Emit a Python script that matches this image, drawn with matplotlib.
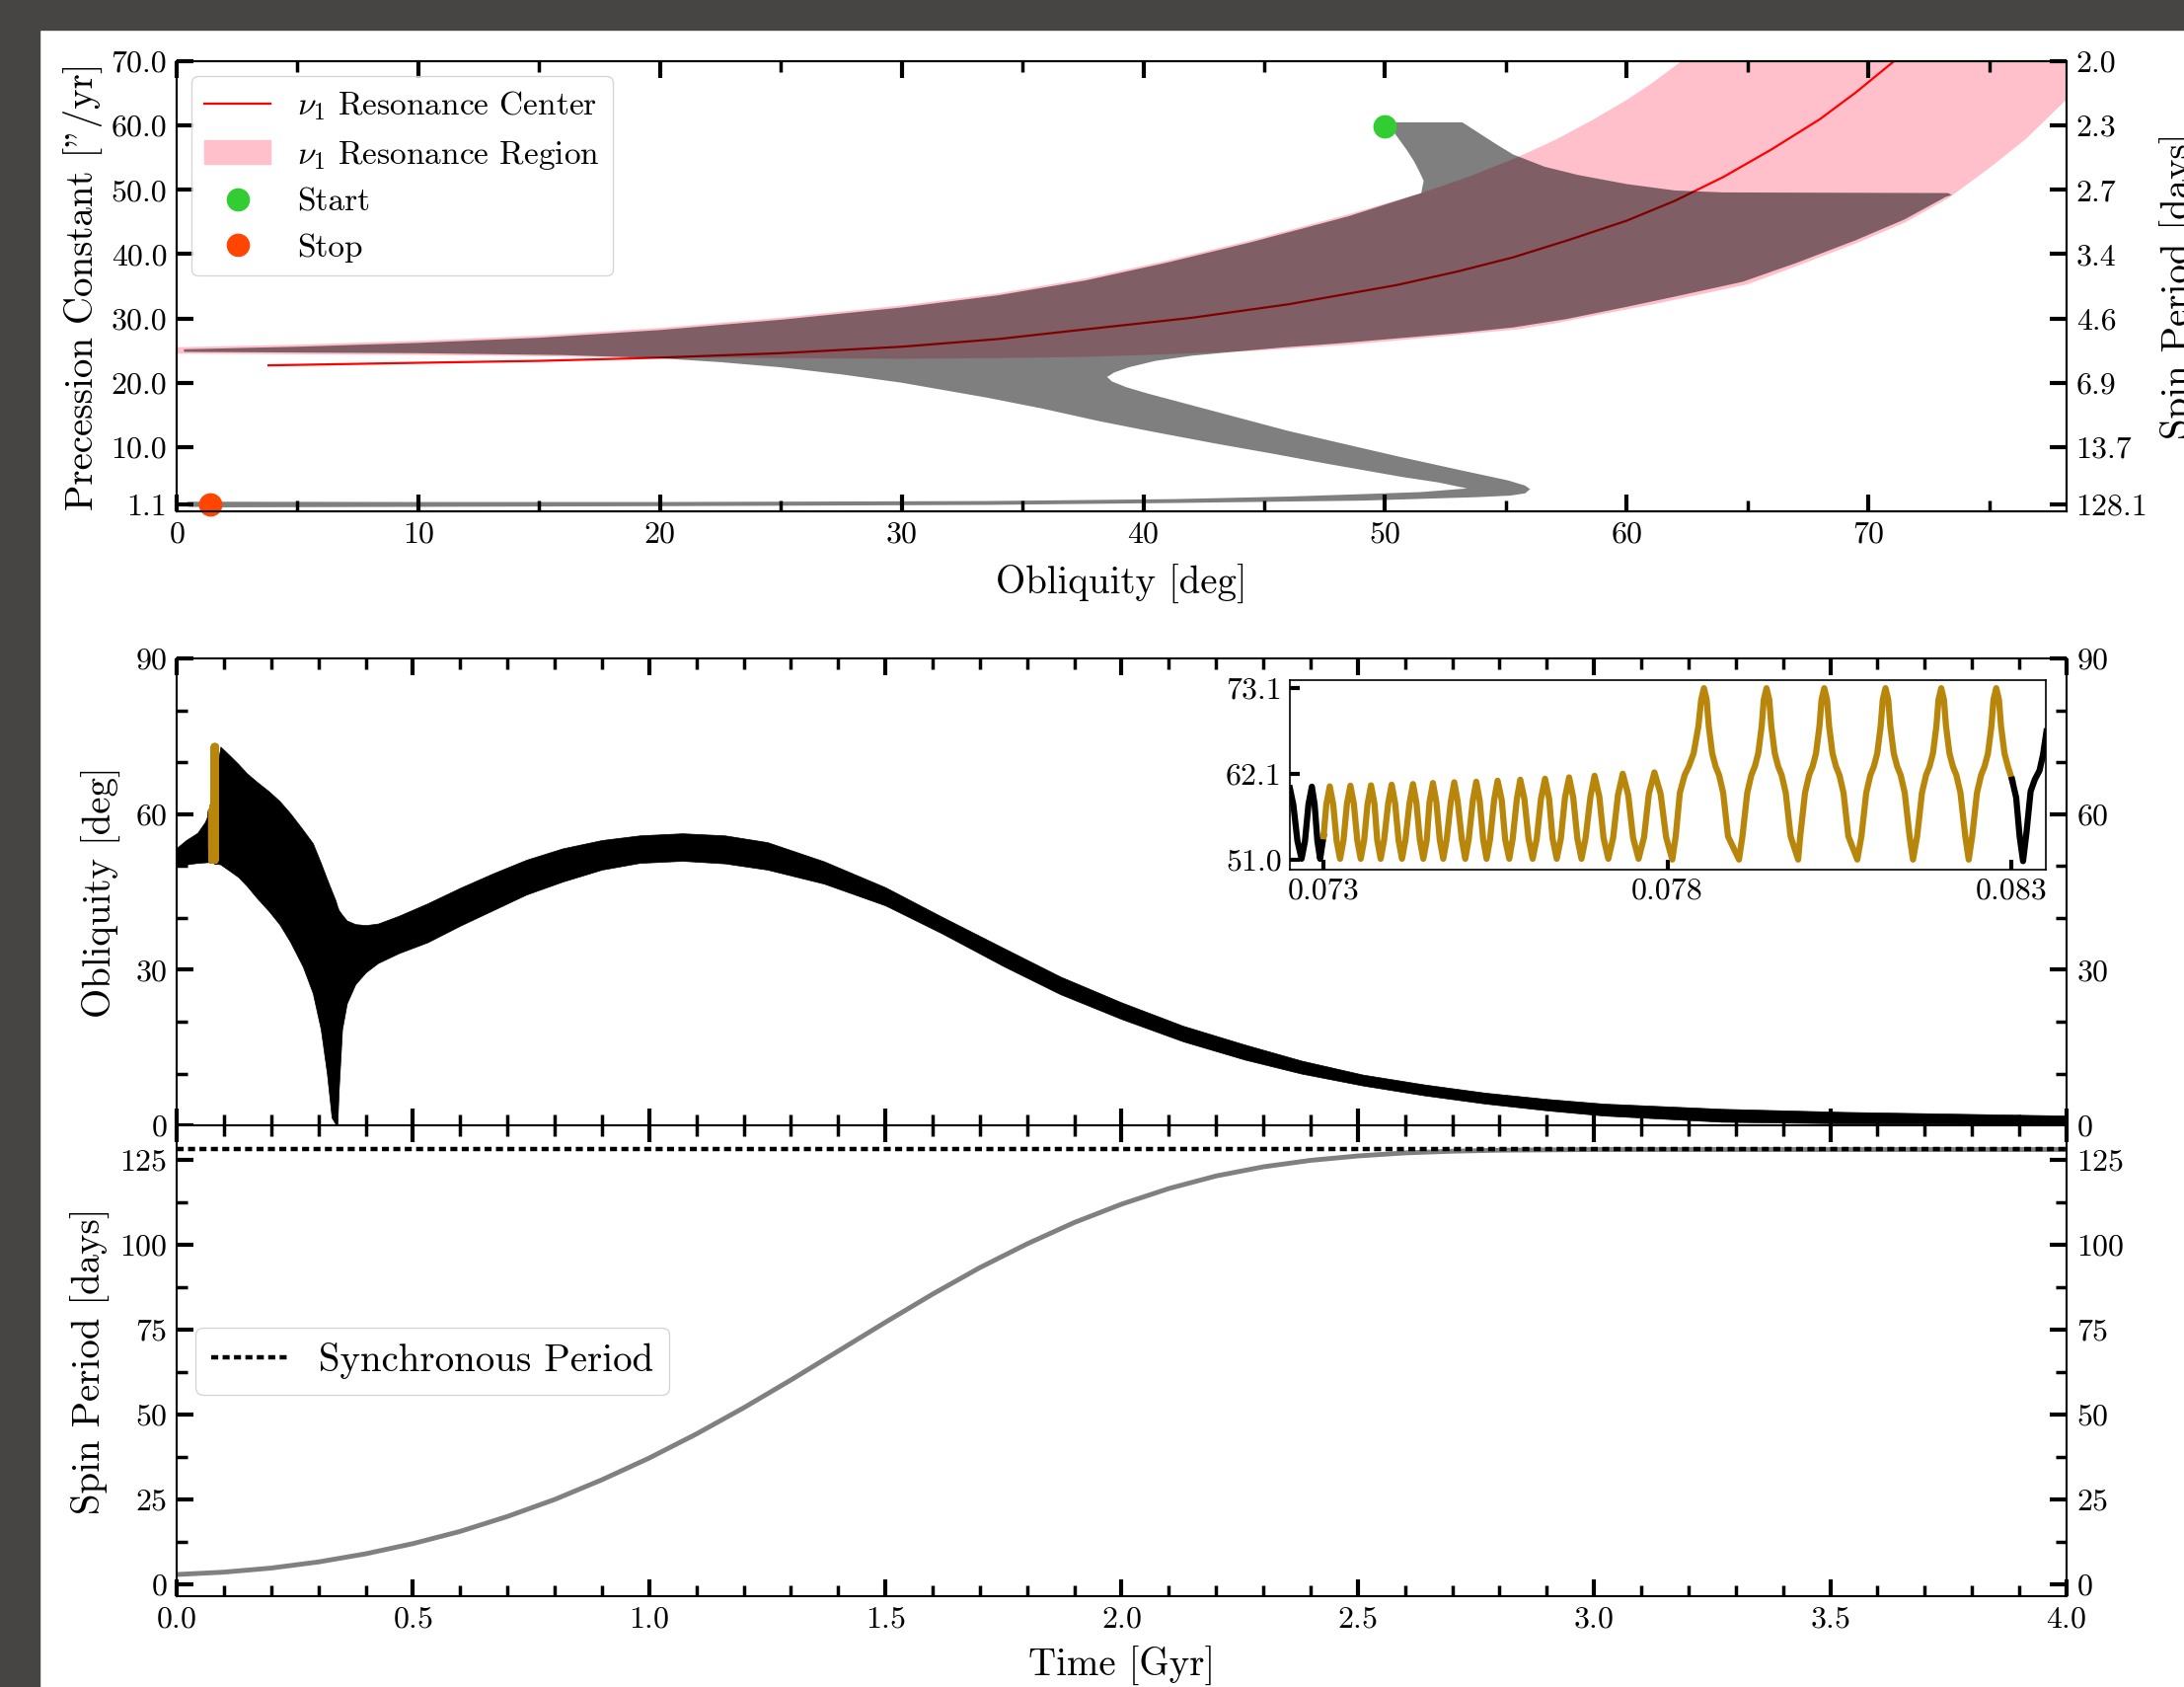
import matplotlib
matplotlib.use("Agg")
import matplotlib.pyplot as plt
from matplotlib.patches import Rectangle, Patch
from matplotlib.lines import Line2D
from matplotlib.ticker import MultipleLocator

plt.rcParams['font.family'] = 'serif'
plt.rcParams['font.serif'] = ['cmr10']
plt.rcParams['mathtext.fontset'] = 'cm'
plt.rcParams['axes.formatter.use_mathtext'] = True
plt.rcParams['axes.unicode_minus'] = False

# ---------------- top panel: precession constant vs obliquity
res_obl = [0, 5, 10, 15, 20, 25, 30, 34, 37.6, 41, 44.4, 48.5, 51.5, 53.5, 55.5, 57, 58.5,
           60, 61, 62, 63, 65, 67, 69.5, 71.5, 73.3, 75, 76.5, 78.2]
res_upper = [25.6, 26.0, 26.6, 27.4, 28.6, 30.2, 32.1, 34.0, 36.3, 39.1, 42.2, 46.3, 49.6,
             52.2, 55.2, 57.8, 60.8, 64.1, 66.6, 69.4, 72.3, 78.5, 85.0, 94.0, 101.0,
             108.0, 115.0, 121.0, 130.0]
res_lower = [24.6, 24.5, 24.4, 24.2, 24.0, 23.9, 23.8, 23.9, 24.1, 24.5, 25.0, 26.0, 27.0,
             27.7, 28.4, 29.3, 30.4, 31.5, 32.2, 33.0, 33.8, 35.4, 38.2, 41.8, 45.0,
             48.8, 53.5, 58.0, 64.2]

center_obl = [3.8, 10, 15, 20, 25, 30, 34, 37.6, 42, 46, 50.5, 53, 55.3, 57.6, 60, 62, 64,
              66, 68, 69.5, 71.06, 72.5]
center_P = [22.7, 23.1, 23.4, 23.9, 24.6, 25.6, 26.8, 28.3, 30.1, 32.2, 35.2, 37.3, 39.5,
            42.2, 45.2, 48.3, 52.0, 56.3, 61.0, 65.2, 70.0, 74.5]

# outline of the trajectory band (obliquity, precession constant), clockwise
traj_obl = [0.3, 5, 10, 15, 20, 25, 30, 34, 37.6, 41, 44.4, 48.5, 51.5,
            51.6, 51.4, 51.2, 50.9, 50.65, 50.4, 50.1, 50.0,
            53.2, 53.9, 54.6, 55.3, 56.6, 58.0, 60.0, 62.0, 64.0, 73.3, 73.45, 73.2,
            71.5, 69.5, 67.0, 64.8, 62.0, 60.0, 57.5, 55.3, 53.0, 50.5, 48.0, 45.8,
            44.0, 42.0, 40.5, 39.4, 38.8, 38.5,
            38.7, 39.3, 40.2, 41.3, 43.5, 46.0, 48.4, 50.7, 53.0, 55.1, 55.8, 56.0, 55.8, 55.2,
            53.8, 49.1, 41.3, 33.5, 20.0, 10.0, 2.0, 0.5, 0.2,
            0.5, 10.0, 20.0, 33.5, 41.3, 46.0, 49.1, 51.5, 53.4,
            52.2, 50.7, 47.6, 45.3, 42.9, 40.5, 38.2, 35.8, 33.5, 30.0, 27.5, 25.0, 22.5,
            20.0, 16.0, 10.0, 5.0, 0.3]
traj_P = [25.2, 25.6, 26.2, 27.0, 28.2, 29.8, 31.7, 33.6, 35.9, 38.7, 41.8, 45.9, 49.5,
          51.4, 53.0, 54.45, 56.2, 57.5, 58.8, 59.8, 60.5,
          60.5, 58.8, 57.1, 55.5, 53.6, 52.3, 50.9, 49.9, 49.6, 49.5, 49.2, 48.9,
          45.4, 42.2, 38.6, 35.7, 33.4, 31.8, 29.9, 28.6, 27.7, 26.9, 26.1, 25.5,
          24.9, 24.2, 23.4, 22.4, 21.6, 20.9,
          20.2, 19.3, 18.3, 17.2, 15.0, 12.5, 10.4, 8.4, 6.5, 4.8, 4.0, 3.45, 2.8, 2.45,
          2.2, 1.67, 1.3, 1.0, 0.8, 0.7, 0.62, 0.7, 1.1,
          1.5, 1.45, 1.45, 1.6, 1.9, 2.3, 2.68, 3.0, 3.56,
          4.5, 5.35, 7.4, 9.0, 10.6, 12.3, 14.0, 16.0, 17.7, 20.0, 21.3, 22.4, 23.2,
          23.8, 24.3, 24.6, 24.7, 24.8]

start_obl, start_P = 50.0, 59.9
stop_obl, stop_P = 1.4, 1.05

prec_ticks = [1.1, 10.0, 20.0, 30.0, 40.0, 50.0, 60.0, 70.0]
prec_labels = ["1.1", "10.0", "20.0", "30.0", "40.0", "50.0", "60.0", "70.0"]
spin_labels = ["128.1", "13.7", "6.9", "4.6", "3.4", "2.7", "2.3", "2.0"]

# ---------------- middle panel: obliquity envelope vs time
env_t = [0.0, 0.02, 0.044, 0.06, 0.072, 0.0926, 0.11, 0.13, 0.148, 0.17, 0.195, 0.218,
         0.24, 0.267, 0.288, 0.305, 0.318, 0.328, 0.336, 0.340, 0.343, 0.35, 0.36, 0.378,
         0.40, 0.426, 0.47, 0.531, 0.60, 0.67, 0.74, 0.817, 0.90, 0.98, 1.07, 1.16, 1.25,
         1.37, 1.5, 1.62, 1.75, 1.87, 2.0, 2.13, 2.26, 2.38, 2.51, 2.64, 2.77, 2.9, 3.02,
         3.27, 3.53, 3.8, 4.0]
env_upper = [53.5, 55.0, 56.4, 58.5, 61.2, 73.0, 71.5, 69.7, 67.9, 66.2, 64.4, 62.5,
             60.2, 57.0, 54.4, 50.6, 47.5, 45.2, 43.4, 42.2, 41.5, 40.6, 39.5, 38.8,
             38.6, 38.9, 40.4, 42.8, 45.8, 48.6, 51.2, 53.4, 55.0, 55.9, 56.3, 55.9, 54.6,
             50.9, 45.9, 40.2, 34.2, 28.7, 23.7, 19.2, 15.6, 12.5, 9.8, 7.9, 6.3, 5.1, 4.2,
             3.2, 2.6, 2.2, 1.9]
env_lower = [49.9, 50.3, 50.6, 50.7, 50.8, 50.3, 49.2, 47.9, 46.2, 43.8, 41.3, 38.7,
             35.4, 30.6, 25.5, 18.5, 10.0, 1.5, 0.3, 0.3, 7.0, 18.5, 23.5, 27.2,
             29.5, 31.3, 33.2, 35.3, 38.5, 41.5, 44.5, 47.0, 49.3, 50.6, 51.0, 50.5, 49.3,
             46.6, 42.4, 37.0, 30.7, 25.3, 20.5, 16.2, 12.7, 10.0, 7.7, 5.8, 4.2, 2.9, 1.9,
             0.7, 0.4, 0.3, 0.3]

# zoom window: obliquity during the resonance crossing
pre_t = [0.07251, 0.07256, 0.07262, 0.07268, 0.07273, 0.07278, 0.07283, 0.07287, 0.07291, 0.07295, 0.07300]
pre_obl = [60.2, 58.1, 53.4, 51.1, 53.4, 58.1, 60.4, 58.1, 53.4, 51.1, 54.0]

cross_t = [0.07300, 0.07304, 0.07309,
           0.07314, 0.07319, 0.07324, 0.07329, 0.07334, 0.07339,
           0.07344, 0.07349, 0.07354, 0.07359, 0.07364, 0.07369,
           0.07374, 0.07378, 0.07383, 0.07388, 0.07394, 0.07399,
           0.07404, 0.07409, 0.07414, 0.07419, 0.07425, 0.07430,
           0.07435, 0.07440, 0.07445, 0.07450, 0.07454, 0.07459,
           0.07464, 0.07469, 0.07474, 0.07479, 0.07485, 0.07490,
           0.07495, 0.07501, 0.07506, 0.07511, 0.07517, 0.07522,
           0.07527, 0.07532, 0.07537, 0.07542, 0.07548, 0.07553,
           0.07559, 0.07564, 0.07570, 0.07575, 0.07581, 0.07586,
           0.07592, 0.07598, 0.07604, 0.07610, 0.07616, 0.07622,
           0.07628, 0.07633, 0.07639, 0.07645, 0.07651, 0.07657,
           0.07663, 0.07669, 0.07675, 0.07681, 0.07688, 0.07694,
           0.07701, 0.07707, 0.07714, 0.07721, 0.07728, 0.07735,
           0.07743, 0.07750, 0.07758, 0.07766, 0.07773, 0.07781,
           0.07790, 0.07798, 0.07807,
           0.07812, 0.07818, 0.07825, 0.07831, 0.07838, 0.07845, 0.07849, 0.07853,
           0.07857, 0.07860, 0.07865, 0.07870, 0.07875, 0.07881, 0.07888, 0.07904,
           0.07909, 0.07916, 0.07922, 0.07927, 0.07932, 0.07937, 0.07940, 0.07944,
           0.07948, 0.07951, 0.07956, 0.07961, 0.07966, 0.07972, 0.07979, 0.07990,
           0.07993, 0.08000, 0.08006, 0.08011, 0.08016, 0.08021, 0.08024, 0.08028,
           0.08032, 0.08035, 0.08040, 0.08045, 0.08050, 0.08056, 0.08063, 0.08076,
           0.08082, 0.08089, 0.08095, 0.08100, 0.08105, 0.08110, 0.08113, 0.08117,
           0.08121, 0.08124, 0.08129, 0.08134, 0.08139, 0.08145, 0.08152, 0.08157,
           0.08163, 0.08170, 0.08176, 0.08181, 0.08186, 0.08191, 0.08194, 0.08198,
           0.08202, 0.08205, 0.08210, 0.08215, 0.08220, 0.08226, 0.08233, 0.08238,
           0.08243, 0.08250, 0.08256, 0.08261, 0.08266, 0.08271, 0.08274, 0.08278,
           0.08282, 0.08285, 0.08290, 0.08295, 0.08301]
cross_obl = [54.0, 58.1, 60.44,
             58.1, 53.4, 51.1, 53.5, 58.2, 60.53,
             58.2, 53.5, 51.1, 53.5, 58.2, 60.57,
             58.2, 53.5, 51.1, 53.5, 58.3, 60.66,
             58.3, 53.5, 51.1, 53.5, 58.3, 60.74,
             58.3, 53.5, 51.1, 53.5, 58.4, 60.87,
             58.4, 53.5, 51.1, 53.6, 58.5, 60.96,
             58.5, 53.6, 51.1, 53.6, 58.6, 61.04,
             58.6, 53.6, 51.1, 53.6, 58.7, 61.17,
             58.7, 53.6, 51.1, 53.7, 58.8, 61.30,
             58.8, 53.7, 51.1, 53.7, 58.8, 61.43,
             58.8, 53.7, 51.1, 53.7, 59.0, 61.60,
             59.0, 53.7, 51.1, 53.8, 59.1, 61.81,
             59.1, 53.8, 51.1, 53.8, 59.3, 62.07,
             59.3, 53.8, 51.1, 53.9, 59.5, 62.24,
             59.5, 53.9, 51.0,
             54.0, 59.6, 61.9, 63.0, 64.7, 68.2, 71.6, 73.1,
             71.6, 68.2, 64.7, 63.0, 61.9, 59.6, 54.0, 51.0,
             54.0, 59.6, 61.9, 63.0, 64.7, 68.2, 71.6, 73.1,
             71.6, 68.2, 64.7, 63.0, 61.9, 59.6, 54.0, 51.0,
             54.0, 59.6, 61.9, 63.0, 64.7, 68.2, 71.6, 73.1,
             71.6, 68.2, 64.7, 63.0, 61.9, 59.6, 54.0, 51.0,
             54.0, 59.6, 61.9, 63.0, 64.7, 68.2, 71.6, 73.1,
             71.6, 68.2, 64.7, 63.0, 61.9, 59.6, 54.0, 51.0,
             54.0, 59.6, 61.9, 63.0, 64.7, 68.2, 71.6, 73.1,
             71.6, 68.2, 64.7, 63.0, 61.9, 59.6, 54.0, 51.0,
             54.0, 59.6, 61.9, 63.0, 64.7, 68.2, 71.6, 73.1,
             71.6, 68.2, 64.7, 63.0, 61.3]

post_t = [0.08301, 0.08307, 0.08312, 0.08317, 0.08322, 0.08328, 0.08334, 0.08341, 0.08346, 0.08351]
post_obl = [61.3, 59.0, 54.0, 50.8, 54.5, 59.8, 61.3, 62.5, 64.5, 67.5]

inset_xticks = [0.073, 0.078, 0.083]
inset_yticks = [51.0, 62.1, 73.1]

# ---------------- bottom panel: spin period vs time
spin_t = [0.0, 0.1, 0.2, 0.3, 0.4, 0.5, 0.6, 0.7, 0.8, 0.9, 1.0, 1.1, 1.2, 1.3, 1.4, 1.5,
          1.6, 1.7, 1.8, 1.9, 2.0, 2.1, 2.2, 2.3, 2.4, 2.5, 2.6, 2.7, 2.8, 2.9, 3.0, 3.5, 4.0]
spin_P = [2.9, 3.6, 4.8, 6.6, 9.0, 12.0, 15.6, 20.0, 25.0, 30.8, 37.2, 44.3, 52.0, 60.2,
          68.7, 77.2, 85.5, 93.3, 100.3, 106.6, 112.0, 116.6, 120.3, 123.0, 124.9, 126.2,
          127.1, 127.6, 127.9, 128.0, 128.1, 128.1, 128.1]
sync_period = 128.1

gold = '#B8860B'

fig = plt.figure(figsize=(22.13, 17.09), dpi=100)
fig.patch.set_facecolor('white')
# dark screenshot border on the top and left
fig.patches.append(Rectangle((0, 1 - 30 / 1709), 1, 30 / 1709, transform=fig.transFigure,
                             color='#474544', zorder=0))
fig.patches.append(Rectangle((0, 0), 40 / 2213, 1, transform=fig.transFigure,
                             color='#474544', zorder=0))


def style_axis(ax):
    ax.tick_params(which='major', direction='in', length=12, width=3, labelsize=23,
                   top=True, right=True, pad=7)
    ax.tick_params(which='minor', direction='in', length=8, width=2.5, top=True, right=True)
    for sp in ax.spines.values():
        sp.set_linewidth(1.5)


# ===== top
ax1 = fig.add_axes([0.0809, 0.6969, 0.8653, 0.2668])
ax1.fill_between(res_obl, res_lower, res_upper, color='pink', lw=0, zorder=1)
ax1.plot(center_obl, center_P, color='red', lw=1.6, zorder=2)
ax1.fill(traj_obl, traj_P, color='black', alpha=0.5, lw=0, zorder=3)
ax1.scatter([start_obl], [start_P], s=260, color='limegreen', zorder=5, clip_on=False)
ax1.scatter([stop_obl], [stop_P], s=260, color='orangered', zorder=5, clip_on=False)
ax1.set_xlim(0, 78.2)
ax1.set_ylim(0, 70)
ax1.xaxis.set_major_locator(MultipleLocator(10))
ax1.xaxis.set_minor_locator(MultipleLocator(5))
ax1.set_yticks(prec_ticks)
ax1.set_yticklabels(prec_labels)
style_axis(ax1)
ax1.tick_params(right=False, which='both')
ax1.set_xlabel('Obliquity [deg]', fontsize=28, labelpad=12)
ax1.set_ylabel('Precession Constant ["/yr]', fontsize=28, labelpad=6)

ax1r = ax1.twinx()
ax1r.set_ylim(0, 70)
ax1r.set_yticks(prec_ticks)
ax1r.set_yticklabels(spin_labels)
ax1r.tick_params(which='major', direction='in', length=12, width=3, labelsize=23, pad=7)
ax1r.set_ylabel('Spin Period [days]', fontsize=28, labelpad=9)
for sp in ax1r.spines.values():
    sp.set_linewidth(1.5)

leg_handles = [Line2D([], [], color='red', lw=1.6),
               Patch(color='pink'),
               Line2D([], [], ls='none', marker='o', ms=16, color='limegreen'),
               Line2D([], [], ls='none', marker='o', ms=16, color='orangered')]
leg_labels = [r'$\nu_1$ Resonance Center', r'$\nu_1$ Resonance Region', 'Start', 'Stop']
ax1r.legend(leg_handles, leg_labels, loc='upper left', fontsize=24, borderaxespad=0.45)

# ===== middle
ax2 = fig.add_axes([0.0809, 0.3329, 0.8653, 0.2768])
ax2.fill_between(env_t, env_lower, env_upper, color='black', lw=0.5, zorder=2)
ax2.plot(pre_t, pre_obl, color='black', lw=4.5, zorder=3)
ax2.plot(post_t, post_obl, color='black', lw=4.5, zorder=3)
ax2.plot(cross_t, cross_obl, color=gold, lw=4.5, zorder=4)
ax2.set_xlim(0, 4.0)
ax2.set_ylim(0, 90)
ax2.xaxis.set_major_locator(MultipleLocator(0.5))
ax2.xaxis.set_minor_locator(MultipleLocator(0.1))
ax2.yaxis.set_major_locator(MultipleLocator(30))
ax2.yaxis.set_minor_locator(MultipleLocator(10))
style_axis(ax2)
ax2.tick_params(labelbottom=False, labelright=True)
ax2.set_ylabel('Obliquity [deg]', fontsize=28, labelpad=10)

# inset
axin = fig.add_axes([0.5906, 0.4845, 0.3461, 0.1123])
axin.plot(pre_t, pre_obl, color='black', lw=4.5)
axin.plot(cross_t, cross_obl, color=gold, lw=4.5)
axin.plot(post_t, post_obl, color='black', lw=4.5)
axin.set_xlim(0.07251, 0.0835)
axin.set_ylim(49.7, 74.13)
axin.set_xticks(inset_xticks)
axin.set_xticklabels(['%.3f' % v for v in inset_xticks])
axin.set_yticks(inset_yticks)
axin.set_yticklabels(['%.1f' % v for v in inset_yticks])
axin.tick_params(direction='in', length=7, width=3, labelsize=23, pad=6)
for sp in axin.spines.values():
    sp.set_linewidth(1.2)

# ===== bottom
ax3 = fig.add_axes([0.0809, 0.0538, 0.8653, 0.2791])
ax3.plot(spin_t, spin_P, color='gray', lw=3.5)
ax3.axhline(sync_period, color='black', lw=3.2, ls=(0, (1.6, 1.0)), label='Synchronous Period')
ax3.set_xlim(0, 4.0)
ax3.set_ylim(-3.5, 135.2)
ax3.xaxis.set_major_locator(MultipleLocator(0.5))
ax3.xaxis.set_minor_locator(MultipleLocator(0.1))
ax3.yaxis.set_major_locator(MultipleLocator(25))
ax3.yaxis.set_minor_locator(MultipleLocator(12.5))
style_axis(ax3)
ax3.tick_params(labelright=True)
ax3.set_xlabel('Time [Gyr]', fontsize=28, labelpad=10)
ax3.set_ylabel('Spin Period [days]', fontsize=28, labelpad=6)
ax3.legend(loc='center left', fontsize=28)

fig.savefig('out.png', dpi=100)
